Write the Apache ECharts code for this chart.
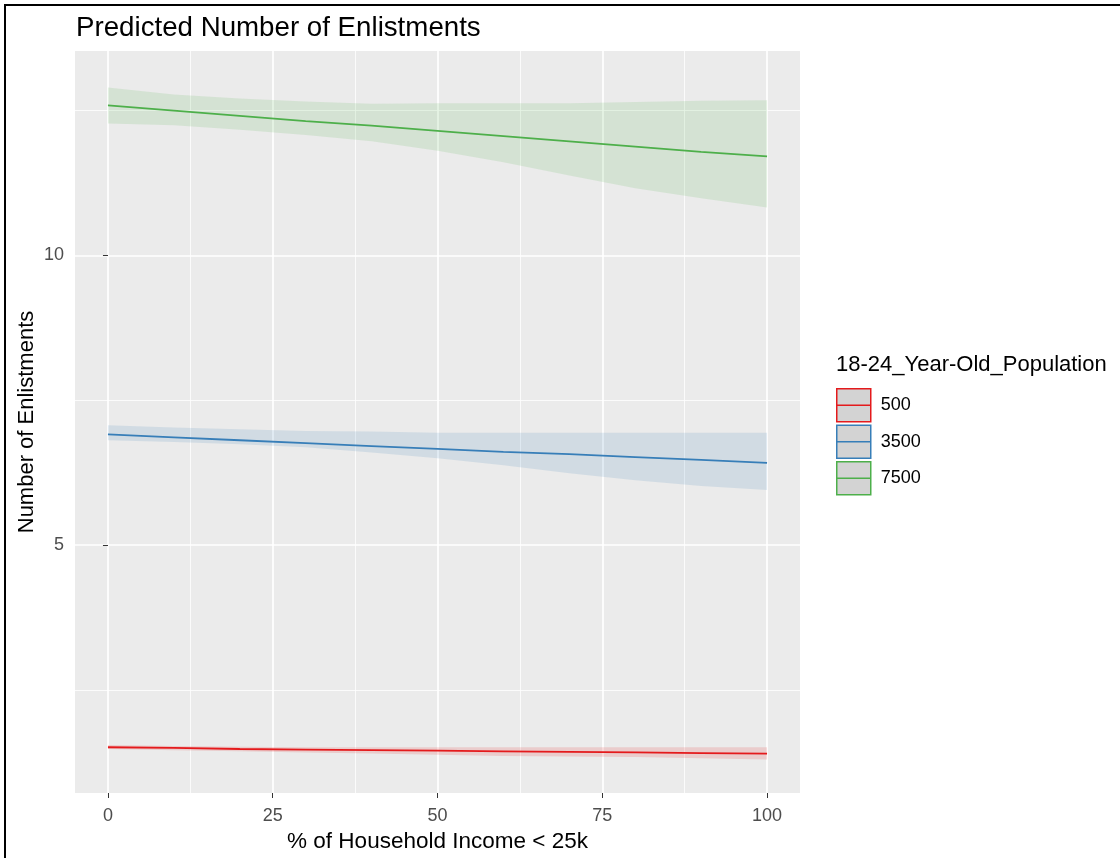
<!DOCTYPE html>
<html>
<head>
<meta charset="utf-8">
<title>Predicted Number of Enlistments</title>
<script src="https://cdn.jsdelivr.net/npm/echarts@6/dist/echarts.min.js"></script>
<style>
  html, body { margin: 0; padding: 0; background: #ffffff; }
  #chart { width: 1120px; height: 858px; }
</style>
</head>
<body>
<div id="chart"></div>
<script>
// % of household income < 25k (x positions of the predictions)
const incomeShare = [0, 10, 20, 30, 40, 50, 60, 70, 80, 90, 100];

// Predicted enlistments with confidence band, per 18-24 population level
const fit500 = [1.51, 1.50, 1.48, 1.47, 1.46, 1.45, 1.44, 1.43, 1.42, 1.41, 1.40];
const low500 = [1.48, 1.46, 1.44, 1.42, 1.40, 1.38, 1.36, 1.35, 1.34, 1.32, 1.30];
const high500 = [1.55, 1.53, 1.52, 1.51, 1.51, 1.51, 1.51, 1.51, 1.51, 1.51, 1.51];

const fit3500 = [6.91, 6.86, 6.81, 6.76, 6.71, 6.66, 6.61, 6.57, 6.52, 6.47, 6.42];
const low3500 = [6.81, 6.78, 6.74, 6.69, 6.60, 6.50, 6.38, 6.24, 6.12, 6.02, 5.95];
const high3500 = [7.07, 7.03, 7.00, 6.97, 6.96, 6.94, 6.94, 6.94, 6.94, 6.94, 6.94];

const fit7500 = [12.59, 12.50, 12.41, 12.32, 12.24, 12.15, 12.06, 11.97, 11.88, 11.79, 11.71];
const low7500 = [12.28, 12.25, 12.17, 12.08, 11.97, 11.81, 11.61, 11.38, 11.16, 10.99, 10.83];
const high7500 = [12.90, 12.78, 12.71, 12.66, 12.62, 12.63, 12.63, 12.63, 12.65, 12.67, 12.68];

const groupNames = ['500', '3500', '7500'];
const groupColors = ['#E41A1C', '#377EB8', '#4DAF4A'];
const bandColors = ['rgba(228,26,28,0.15)', 'rgba(55,126,184,0.14)', 'rgba(77,175,74,0.14)'];

const xMajor = [0, 25, 50, 75, 100];
const xMinor = [12.5, 37.5, 62.5, 87.5];
const yMajor = [5, 10];
const yMinor = [2.5, 7.5, 12.5];

const groups = [
  { fit: fit500, low: low500, high: high500 },
  { fit: fit3500, low: low3500, high: high3500 },
  { fit: fit7500, low: low7500, high: high7500 }
];

const pairs = (vals) => incomeShare.map((x, i) => [x, vals[i]]);

const FONT = 'Liberation Sans, Arial, sans-serif';

const series = [];

// Confidence ribbons: one filled polygon per group, upper edge left-to-right, lower edge back
groups.forEach((g, k) => {
  series.push({
    name: groupNames[k] + ' band',
    type: 'custom',
    silent: true,
    z: 1,
    data: incomeShare.map((x, i) => [x, g.low[i], g.high[i]]),
    encode: { x: 0, y: [1, 2] },
    renderItem: function (params, api) {
      if (params.dataIndex !== 0) return null;
      const pts = [];
      for (let i = 0; i < incomeShare.length; i++) pts.push(api.coord([incomeShare[i], g.high[i]]));
      for (let i = incomeShare.length - 1; i >= 0; i--) pts.push(api.coord([incomeShare[i], g.low[i]]));
      return {
        type: 'polygon',
        shape: { points: pts },
        style: { fill: bandColors[k], stroke: null }
      };
    }
  });
});

// Fitted lines
groups.forEach((g, k) => {
  series.push({
    name: groupNames[k],
    type: 'line',
    data: pairs(g.fit),
    symbol: 'none',
    color: groupColors[k],
    lineStyle: { color: groupColors[k], width: 1.8 },
    z: 3
  });
});

const chart = echarts.init(document.getElementById('chart'), null, { renderer: 'canvas' });

const keyIcon = 'path://M0,0H34V33H0Z M0,16.5H34';

chart.setOption({
  animation: false,
  backgroundColor: '#ffffff',
  title: [
    {
      text: 'Predicted Number of Enlistments',
      left: 76,
      top: 14,
      padding: 0,
      textStyle: { fontFamily: FONT, fontSize: 27.7, fontWeight: 'normal', color: '#000000' }
    },
    {
      text: '18-24_Year-Old_Population',
      left: 836,
      top: 354,
      padding: 0,
      textStyle: { fontFamily: FONT, fontSize: 22, fontWeight: 'normal', color: '#000000' }
    }
  ],
  legend: {
    data: groupNames.map((n, k) => ({
      name: n,
      icon: keyIcon,
      itemStyle: { color: '#D3D3D3', borderColor: groupColors[k], borderWidth: 1.5 }
    })),
    orient: 'vertical',
    left: 836,
    top: 388,
    padding: 0,
    itemWidth: 34,
    itemHeight: 33,
    itemGap: 2,
    selectedMode: false,
    textStyle: { fontFamily: FONT, fontSize: 18, color: '#000000', padding: [0, 0, 0, 5] }
  },
  grid: {
    left: 75,
    right: 320,
    top: 51,
    bottom: 65,
    show: true,
    backgroundColor: '#EBEBEB',
    borderWidth: 0,
    containLabel: false
  },
  xAxis: [
    {
      type: 'value',
      min: -5,
      max: 105,
      name: '% of Household Income < 25k',
      nameLocation: 'middle',
      nameGap: 36,
      nameTextStyle: { fontFamily: FONT, fontSize: 22.5, color: '#000000' },
      axisLine: { show: false },
      axisTick: { show: true, length: 5, lineStyle: { color: '#333333', width: 1 }, customValues: xMajor },
      axisLabel: { customValues: xMajor, fontFamily: FONT, fontSize: 18, color: '#4D4D4D', margin: 14 },
      splitLine: { show: true, lineStyle: { color: '#ffffff', width: 1.7 } }
    },
    {
      type: 'value',
      min: -5,
      max: 105,
      position: 'top',
      axisLine: { show: false },
      axisTick: { show: false, customValues: xMinor },
      axisLabel: { show: false, customValues: xMinor },
      splitLine: { show: true, lineStyle: { color: '#ffffff', width: 0.8 } }
    }
  ],
  yAxis: [
    {
      type: 'value',
      min: 0.72,
      max: 13.53,
      name: 'Number of Enlistments',
      nameLocation: 'middle',
      nameGap: 37,
      nameMoveOverlap: false,
      nameRotate: 90,
      nameTextStyle: { fontFamily: FONT, fontSize: 22, color: '#000000' },
      axisLine: { show: false },
      axisTick: { show: true, length: 5, lineStyle: { color: '#333333', width: 1 }, customValues: yMajor },
      axisLabel: { customValues: yMajor, fontFamily: FONT, fontSize: 18, color: '#4D4D4D', margin: 11 },
      splitLine: { show: true, lineStyle: { color: '#ffffff', width: 1.7 } }
    },
    {
      type: 'value',
      min: 0.72,
      max: 13.53,
      position: 'right',
      axisLine: { show: false },
      axisTick: { show: false, customValues: yMinor },
      axisLabel: { show: false, customValues: yMinor },
      splitLine: { show: true, lineStyle: { color: '#ffffff', width: 0.8 } }
    }
  ],
  series: series,
  graphic: [
    { type: 'line', shape: { x1: 4, y1: 5, x2: 1120, y2: 5 }, style: { stroke: '#000000', lineWidth: 2 }, silent: true },
    { type: 'line', shape: { x1: 5, y1: 4, x2: 5, y2: 858 }, style: { stroke: '#000000', lineWidth: 2 }, silent: true }
  ]
});
</script>
</body>
</html>
